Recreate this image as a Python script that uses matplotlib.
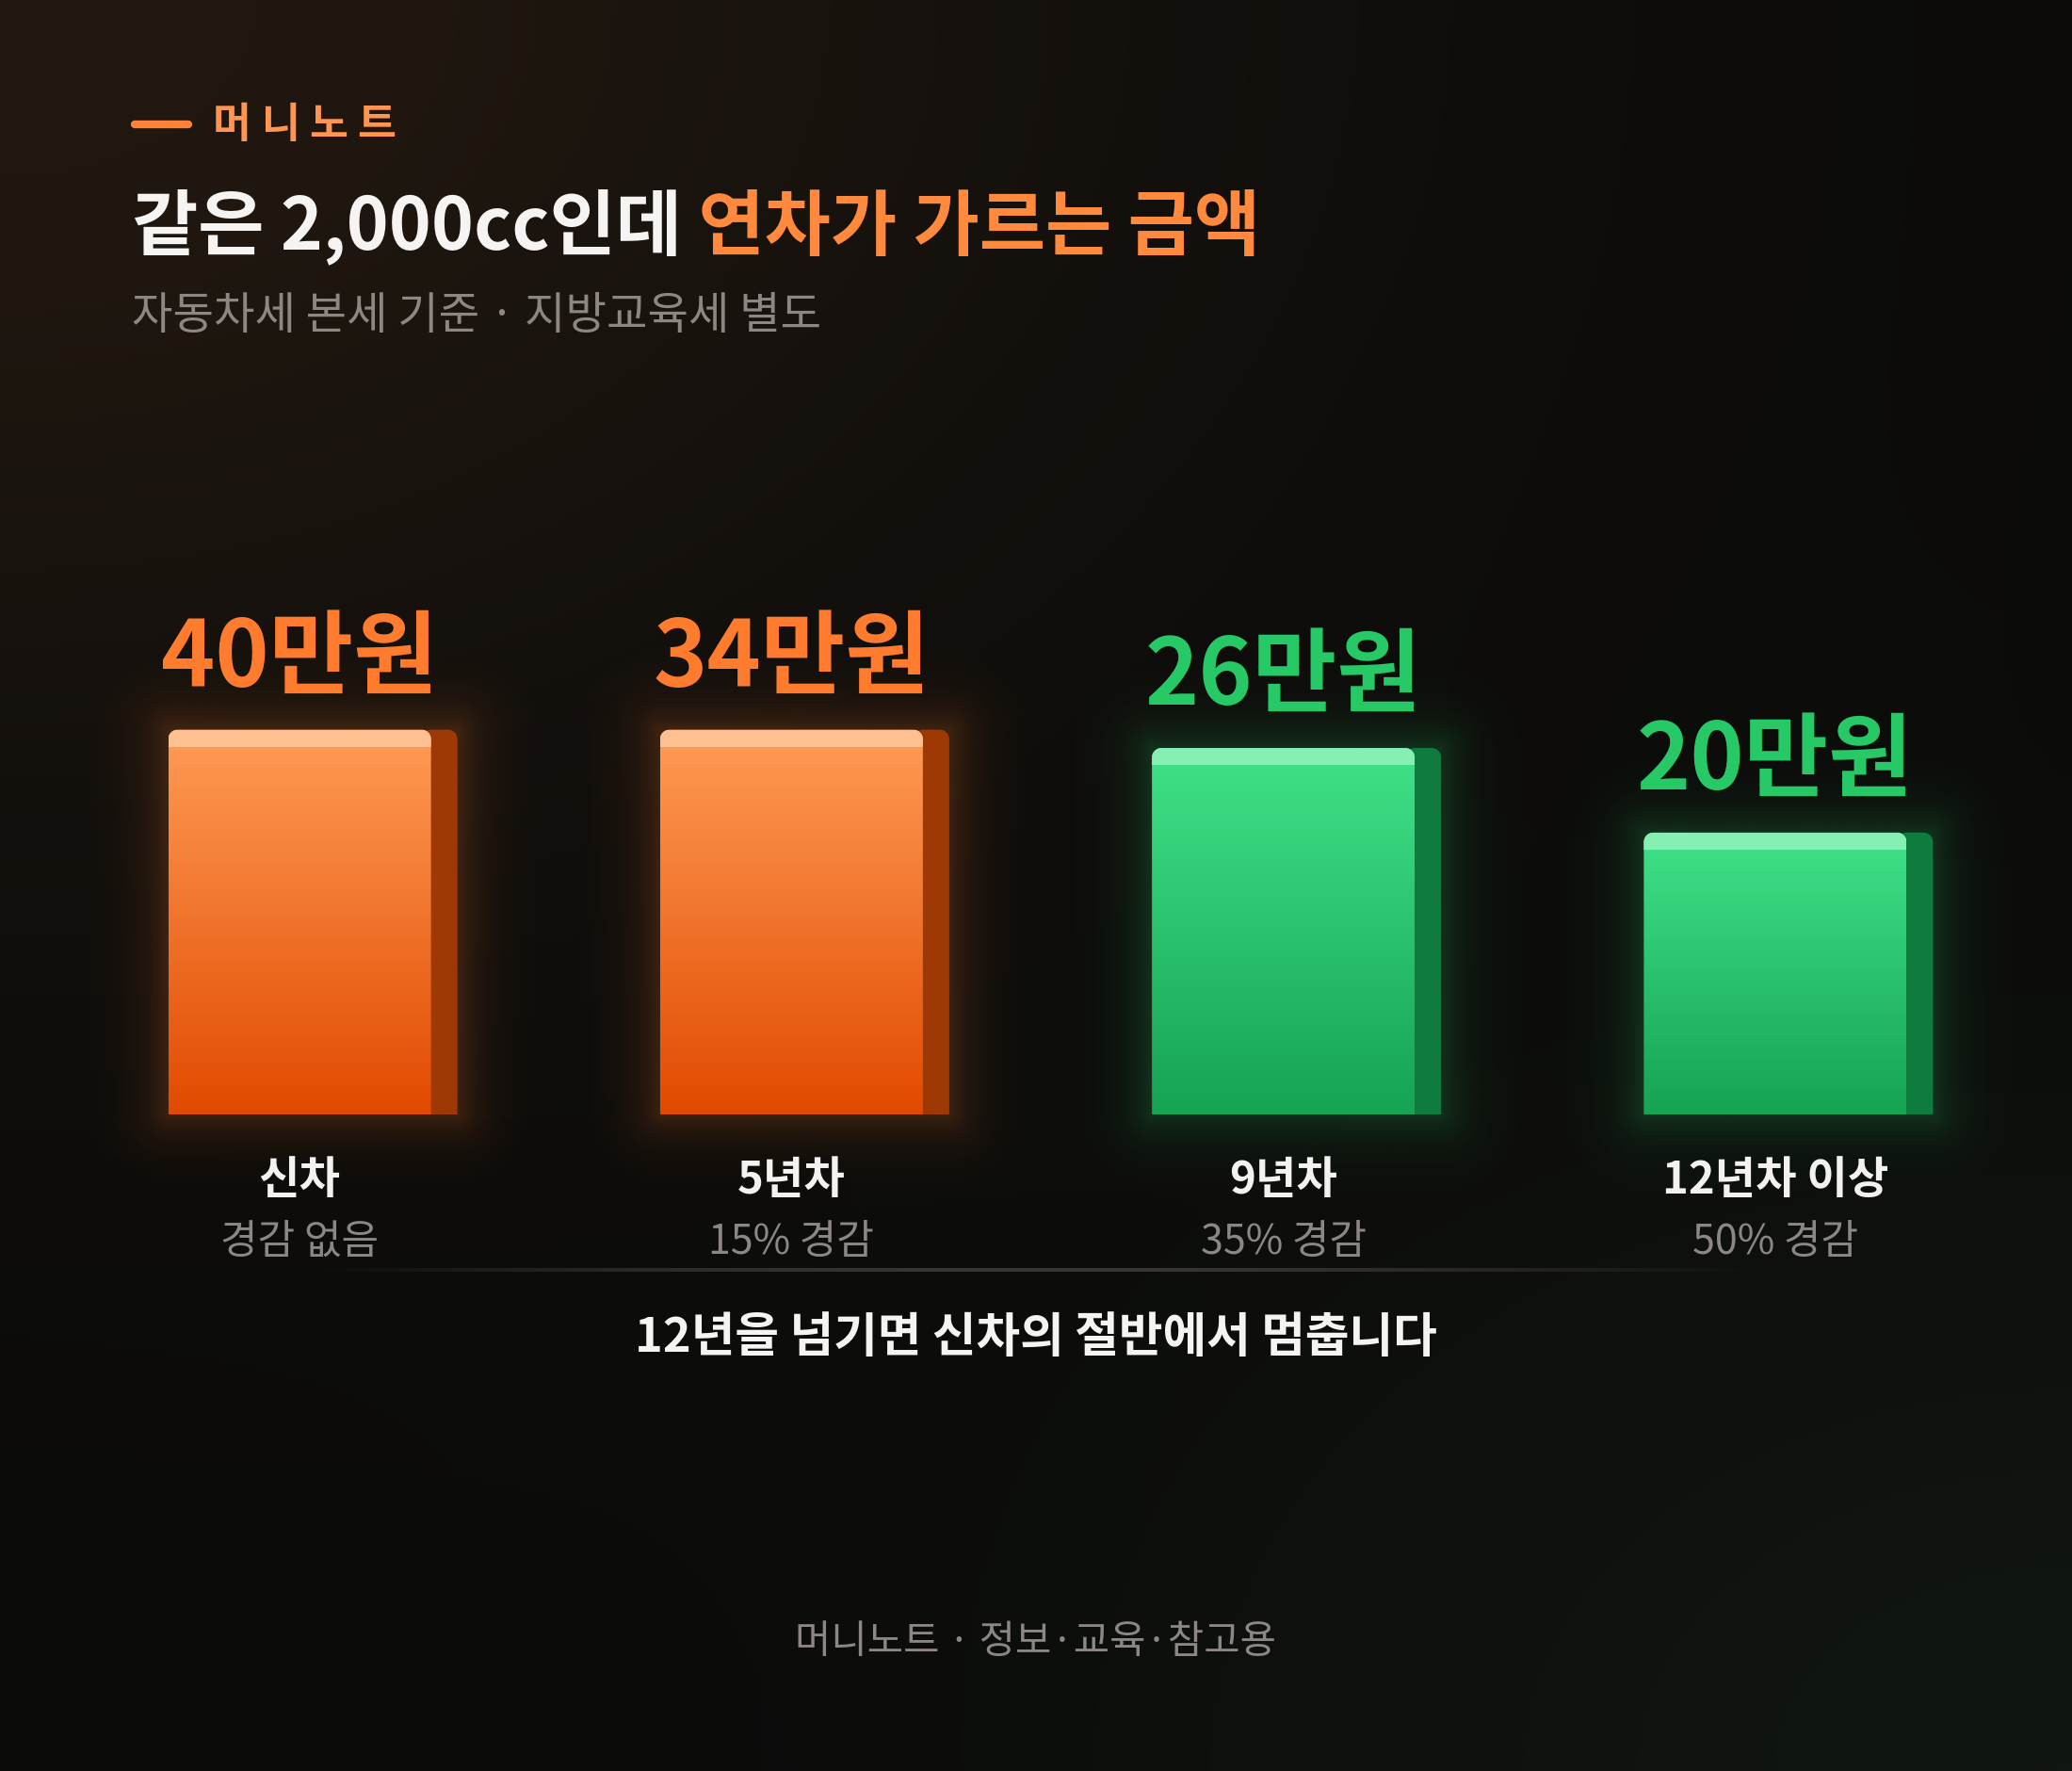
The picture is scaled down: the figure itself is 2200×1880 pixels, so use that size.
import numpy as np
import matplotlib
matplotlib.use("Agg")
import matplotlib.pyplot as plt
from matplotlib.patches import Polygon, Rectangle

plt.rcParams['font.family'] = ['Noto Sans CJK KR', 'DejaVu Sans']

# data
categories = ['신차', '5년차', '9년차', '12년차 이상']
notes = ['경감 없음', '15% 경감', '35% 경감', '50% 경감']
taxes = [40, 34, 26, 20]          # 만원
tones = ['orange', 'orange', 'green', 'green']
bar_cap = 27.3                    # bars are drawn no taller than this

W, H = 2200, 1880
fig = plt.figure(figsize=(W / 100, H / 100), dpi=100)

# background layer in pixel coords
bg = fig.add_axes([0, 0, 1, 1])
bg.set_xlim(0, W)
bg.set_ylim(H, 0)
bg.axis('off')

yy, xx = np.mgrid[0:H:4, 0:W:4].astype(float)
img = np.zeros(yy.shape + (3,))
img[:] = np.array([11, 11, 10]) / 255
warm = np.exp(-((xx / 1600) ** 2 + (yy / 1100) ** 2) * 1.6)
img += warm[..., None] * np.array([22, 13, 6]) / 255
cool = np.exp(-(((W - xx) / 1300) ** 2 + ((H - yy) / 900) ** 2) * 1.6)
img += cool[..., None] * np.array([5, 11, 6]) / 255
bg.imshow(np.clip(img, 0, 1), extent=(0, W, H, 0), aspect='auto', zorder=0, interpolation='bilinear')

# eyebrow
orange_txt = '#ff8a3d'
bg.plot([143, 200], [132, 132], color='#ff8238', lw=6, solid_capstyle='round', zorder=2)
for k, ch in enumerate('머니노트'):
    bg.text(226 + 51 * k, 133, ch, color='#ff9550', fontsize=32, fontweight='bold',
            ha='left', va='center', zorder=3)

# title in two colours
t1 = bg.text(140, 241, '같은 2,000cc인데', color='#f6f4f2', fontsize=55, fontweight='bold',
             ha='left', va='center', zorder=3)
bg.annotate(' 연차가 가르는 금액', xy=(1, 0), xycoords=t1, ha='left', va='bottom',
            color=orange_txt, fontsize=55, fontweight='bold', zorder=3)
bg.text(140, 336, '자동차세 본세 기준 · 지방교육세 별도', color='#8c8782', fontsize=34,
        ha='left', va='center', zorder=3)

# separator with faded ends
t = np.linspace(0, 1, 400)
line = np.zeros((1, 400, 4))
line[..., :3] = np.array([58, 54, 50]) / 255
line[..., 3] = np.sin(np.pi * t) ** 0.9
bg.imshow(line, extent=(330, 1870, 1350, 1346), aspect='auto', zorder=2)

bg.text(W / 2, 1420, '12년을 넘기면 신차의 절반에서 멈춥니다', color='#f6f4f2', fontsize=36.5,
        fontweight='bold', ha='center', va='center', zorder=3)
bg.text(W / 2, 1744, '머니노트 · 정보·교육·참고용', color='#8c8782', fontsize=30,
        ha='center', va='center', zorder=3)

# bar axes
ax_l, ax_b, ax_w, ax_h = 57 / W, (H - 1183) / H, 2089 / W, 598.4 / H
ax = fig.add_axes([ax_l, ax_b, ax_w, ax_h])
ax.set_xlim(-0.5, 3.5)
ax.set_ylim(0, 40)
ax.axis('off')
ax.patch.set_alpha(0)

px_x = ax_w * W / 4.0     # pixels per x unit
px_y = ax_h * H / 40.0    # pixels per y unit

palette = {
    'orange': dict(top=(255, 156, 86), bot=(226, 74, 0), hi='#ffc091', side='#9e3805',
                   glow=(255, 120, 40), text='#ff7b2e'),
    'green': dict(top=(64, 226, 136), bot=(22, 163, 84), hi='#86efb3', side='#0e7c3c',
                  glow=(40, 200, 100), text='#26c965'),
}

front_w = 279 / px_x
side_w = 28 / px_x
rx, ry = 10 / px_x, 10 / px_y
hl = 18 / px_y


def top_rounded(x0, x1, y0, y1):
    a_r = np.linspace(0, np.pi / 2, 16)
    a_l = np.linspace(np.pi / 2, np.pi, 16)
    pts = [(x0, y0), (x1, y0)]
    pts += [(x1 - rx + rx * np.cos(a), y1 - ry + ry * np.sin(a)) for a in a_r]
    pts += [(x0 + rx + rx * np.cos(a), y1 - ry + ry * np.sin(a)) for a in a_l]
    return pts


heights = np.minimum(taxes, bar_cap)
for i, (val, h, tone) in enumerate(zip(taxes, heights, tones)):
    p = palette[tone]
    x0 = i - front_w / 2
    x1 = i + front_w / 2

    # glow
    pad_px = 110
    gx0, gx1 = x0 - pad_px / px_x, x1 + side_w + pad_px / px_x
    gy0, gy1 = -pad_px / px_y, h + pad_px / px_y
    gxs = np.linspace(gx0, gx1, 220)
    gys = np.linspace(gy0, gy1, 220)
    GX, GY = np.meshgrid(gxs, gys)
    dx = np.maximum(np.maximum(x0 - GX, GX - (x1 + side_w)), 0) * px_x
    dy = np.maximum(np.maximum(0 - GY, GY - h), 0) * px_y
    d = np.hypot(dx, dy)
    glow = np.zeros(GX.shape + (4,))
    glow[..., :3] = np.array(p['glow']) / 255
    glow[..., 3] = 0.2 * np.exp(-d / 26)
    gim = ax.imshow(glow, extent=(gx0, gx1, gy0, gy1), origin='lower', aspect='auto',
                    zorder=1, interpolation='bilinear')
    gim.set_clip_on(False)

    # side face
    side = Polygon(top_rounded(x1 - rx, x1 + side_w, 0, h), closed=True,
                   facecolor=p['side'], edgecolor='none', zorder=2)
    ax.add_patch(side)

    # front face with vertical gradient
    front = Polygon(top_rounded(x0, x1, 0, h), closed=True, facecolor='none',
                    edgecolor='none', zorder=3)
    ax.add_patch(front)
    tt = np.linspace(0, 1, 256)[:, None]
    grad = (np.array(p['bot']) * (1 - tt) + np.array(p['top']) * tt) / 255
    im = ax.imshow(grad[:, None, :], extent=(x0, x1, 0, h), origin='lower', aspect='auto',
                   zorder=3, interpolation='bilinear')
    im.set_clip_path(front)
    strip = Rectangle((x0, h - hl), front_w, hl, facecolor=p['hi'], edgecolor='none', zorder=4)
    ax.add_patch(strip)
    strip.set_clip_path(front)

    # labels
    ax.annotate(f'{val}만원', xy=(i, h), xytext=(0, 46 * 0.72), textcoords='offset points',
                ha='center', va='baseline', color=p['text'], fontsize=70, fontweight='bold',
                zorder=5)
    ax.annotate(categories[i], xy=(i, 0), xytext=(0, -70 * 0.72), textcoords='offset points',
                ha='center', va='center', color='#f4f2f0', fontsize=34, fontweight='bold',
                zorder=5)
    ax.annotate(notes[i], xy=(i, 0), xytext=(0, -136 * 0.72), textcoords='offset points',
                ha='center', va='center', color='#8c8782', fontsize=31, zorder=5)

ax.set_xlim(-0.5, 3.5)
ax.set_ylim(0, 40)

fig.savefig('out.png', dpi=100, facecolor='#0b0b0a')
